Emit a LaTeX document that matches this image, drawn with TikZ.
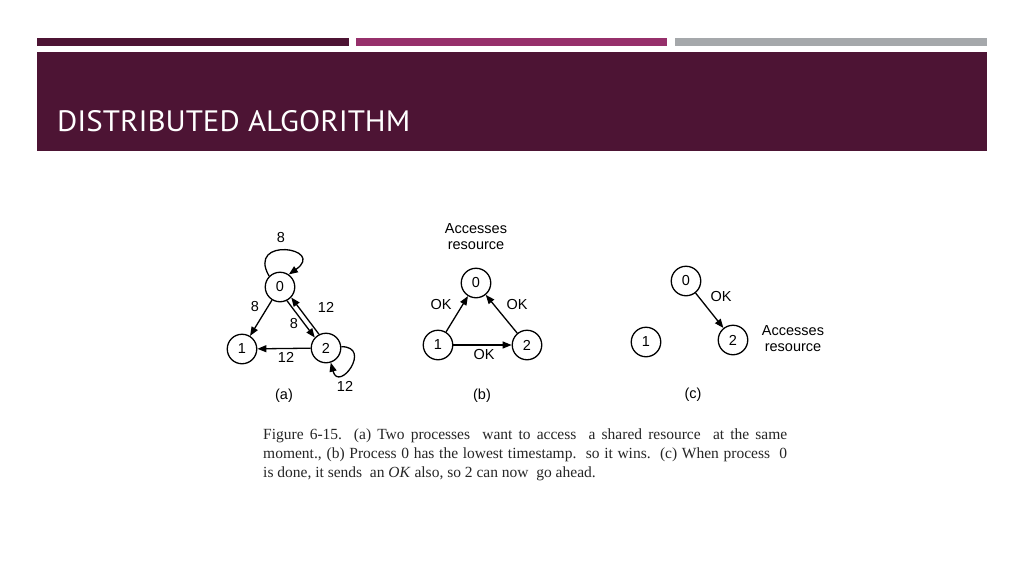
\documentclass[tikz,border=0pt]{standalone}
\usepackage{fontspec}
\setmainfont{Liberation Serif}
\setsansfont{Liberation Sans}
\newfontfamily\titlefont{PT Sans}
\usetikzlibrary{arrows.meta}
\definecolor{maroon}{HTML}{4D1434}
\definecolor{berry}{HTML}{96306B}
\definecolor{greybar}{HTML}{A5A8AB}
\tikzset{
  proc/.style={circle,draw,line width=1.3pt,minimum size=29.5pt,inner sep=0pt,font=\sffamily\fontsize{14.5}{14.5}\selectfont},
  lbl/.style={inner sep=0pt,font=\sffamily\fontsize{14.5}{14.5}\selectfont},
  msg/.style={line width=1.3pt,-{Triangle[length=9pt,width=7pt]}},
}
\begin{document}
\begin{tikzpicture}[x=1pt,y=-1pt]
\useasboundingbox (0,0) rectangle (1024,576);
\fill[white] (0,0) rectangle (1024,576);
% header bars
\fill[maroon] (37,38) rectangle (349,46);
\fill[berry] (356,38) rectangle (667,46);
\fill[greybar] (675,38) rectangle (987,46);
\fill[maroon] (37,52) rectangle (987,151);
\node[anchor=base west,inner sep=0pt,text=white] (title) at (57,131)
  {\resizebox{353pt}{21pt}{\titlefont DISTRIBUTED ALGORITHM}};
% (a)
\node[proc] (a0) at (280,287) {0};
\node[proc] (a1) at (242,349) {1};
\node[proc] (a2) at (326,348) {2};
\draw[msg] (a0.135) to[out=120,in=35,looseness=6] (a0.55);
\draw[msg] (a0) -- (a1);
\draw[msg] (a0.-63) -- (a2.137);
\draw[msg] (a2.117) -- (a0.-43);
\draw[msg] (a2) -- (a1);
\draw[msg] (a2.5) to[out=0,in=-75,looseness=4.2] (a2.-72);
\node[lbl] (la1) at (281,238) {8};
\node[lbl] (la2) at (255,307) {8};
\node[lbl] (la3) at (294,324) {8};
\node[lbl] (la4) at (326,307) {12};
\node[lbl] (la5) at (286,357) {12};
\node[lbl] (la6) at (345,386) {12};
\node[lbl] (capa) at (284,396) {(a)};
% (b)
\node[proc] (b0) at (476,283) {0};
\node[proc] (b1) at (438,345) {1};
\node[proc] (b2) at (527,345) {2};
\draw[msg] (b1) -- (b0);
\draw[msg] (b2) -- (b0);
\draw[msg] (b1) -- (b2);
\node[lbl] (lb0) at (476,229) {Accesses};
\node[lbl] (lb00) at (476,246) {resource};
\node[lbl] (lb1) at (441,305) {OK};
\node[lbl] (lb2) at (517,305) {OK};
\node[lbl] (lb3) at (484,355) {OK};
\node[lbl] (capb) at (482,396) {(b)};
% (c)
\node[proc] (c0) at (686,281) {0};
\node[proc] (c1) at (646,342) {1};
\node[proc] (c2) at (733,340) {2};
\draw[msg] (c0) -- (c2);
\node[lbl] (lc1) at (721,297) {OK};
\node[lbl] (lc2) at (793,331) {Accesses};
\node[lbl] (lc3) at (793,348) {resource};
\node[lbl] (capc) at (693,395) {(c)};
% caption
\node[anchor=north west,inner sep=0pt] (caption) at (263,429)
 {\parbox[t]{524pt}{\fontsize{15.5}{19}\selectfont\color{black!85}
 Figure 6-15. (a) Two processes\ \ want to access\ \ a shared resource\ \ at the same\linebreak
 moment., (b) Process\ 0 has the lowest timestamp.\ \ so it wins.\ \ (c) When process\ \ 0\linebreak
 is done, it sends\ \ an \textit{OK} also, so 2 can now\ \ go ahead.}};
\end{tikzpicture}
\end{document}
